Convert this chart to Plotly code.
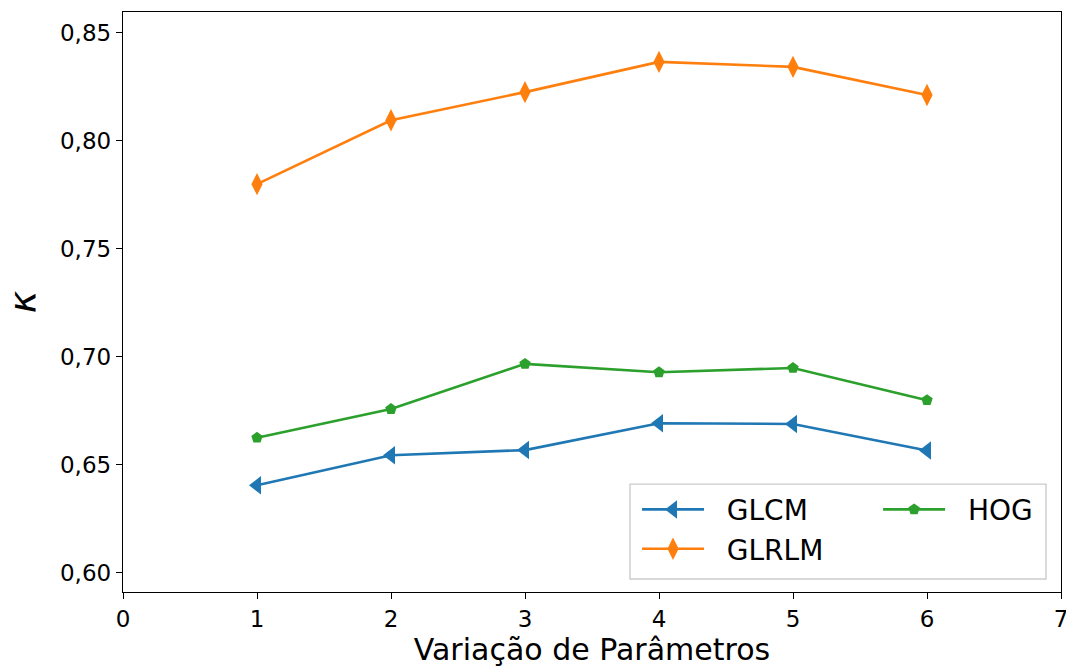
import plotly.graph_objects as go

# Parameter variation index (x axis)
params = [1, 2, 3, 4, 5, 6]

# Kappa per descriptor
glcm = [0.6406, 0.6545, 0.6569, 0.6693, 0.6690, 0.6567]
glrlm = [0.7800, 0.8096, 0.8226, 0.8366, 0.8343, 0.8213]
hog = [0.6626, 0.6759, 0.6968, 0.6929, 0.6949, 0.6800]

x_ticks = [0, 1, 2, 3, 4, 5, 6, 7]
y_ticks = [0.60, 0.65, 0.70, 0.75, 0.80, 0.85]

FONT = "DejaVu Sans"
PAD = "\u00a0\u00a0"  # gap between legend handle and label

fig = go.Figure()

fig.add_trace(go.Scatter(
    x=params, y=glcm, name=PAD + "GLCM", mode="lines+markers",
    line=dict(color="#1f77b4", width=2.6),
    marker=dict(symbol="triangle-left", size=16, color="#1f77b4"),
    legend="legend",
))
fig.add_trace(go.Scatter(
    x=params, y=glrlm, name=PAD + "GLRLM", mode="lines+markers",
    line=dict(color="#ff7f0e", width=2.6),
    marker=dict(symbol="diamond-tall", size=16, color="#ff7f0e"),
    legend="legend",
))
fig.add_trace(go.Scatter(
    x=params, y=hog, name=PAD + "HOG", mode="lines+markers",
    line=dict(color="#2ca02c", width=2.6),
    marker=dict(symbol="pentagon", size=12, color="#2ca02c"),
    legend="legend2",
))

axis_common = dict(
    showline=True, linecolor="black", linewidth=1.4, mirror=True,
    ticks="outside", ticklen=6, tickwidth=1.4, tickcolor="black",
    showgrid=False, zeroline=False, automargin=False,
    tickfont=dict(family=FONT, size=23, color="black"),
)

fig.update_xaxes(
    range=[0, 7], tickvals=x_ticks, ticktext=[str(v) for v in x_ticks],
    ticklabeloverflow="allow",
    title=dict(text="Variação de Parâmetros",
               font=dict(family=FONT, size=30, color="black"), standoff=8),
    **axis_common,
)
fig.update_yaxes(
    range=[0.5912, 0.8597], tickvals=y_ticks, tickformat=".2f",
    title=dict(text="<i>κ</i>", font=dict(family=FONT, size=38, color="black"),
               standoff=14),
    **axis_common,
)

legend_common = dict(
    bgcolor="rgba(0,0,0,0)", borderwidth=0,
    font=dict(family=FONT, size=28, color="black"),
    orientation="v", xanchor="left", yanchor="top",
    itemwidth=62, tracegroupgap=0,
)

fig.update_layout(
    width=1066, height=669,
    margin=dict(l=123, r=5, t=12, b=77),
    paper_bgcolor="white", plot_bgcolor="white",
    separators=",.",
    showlegend=True,
    legend=dict(x=0.548, y=0.185, **legend_common),
    legend2=dict(x=0.805, y=0.185, **legend_common),
    shapes=[dict(
        type="rect", xref="paper", yref="paper",
        x0=0.5405, x1=0.984, y0=0.0224, y1=0.186,
        line=dict(color="#cccccc", width=1.4),
        fillcolor="rgba(255,255,255,0.8)", layer="above",
    )],
)

fig.write_html("out.html")
